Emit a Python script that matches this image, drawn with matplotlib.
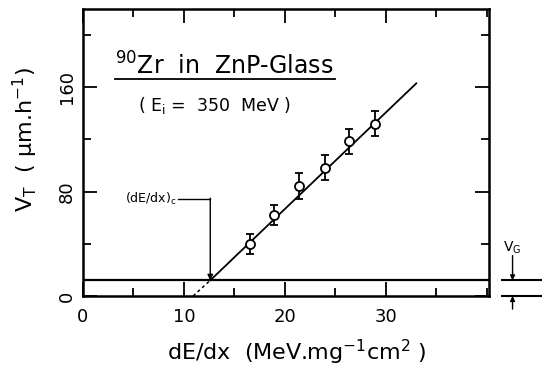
import matplotlib
matplotlib.use("Agg")
import matplotlib.pyplot as plt
import matplotlib.transforms as mtransforms
from matplotlib.ticker import MultipleLocator

# ---- data ----
dedx = [16.5, 18.9, 21.4, 24.0, 26.3, 28.9]
vt = [40.0, 62.0, 84.5, 98.5, 118.5, 132.0]
vt_err = [7.5, 7.7, 9.8, 9.7, 9.8, 9.6]

fit_solid_x = [12.6, 33.0]
fit_solid_y = [12.0, 163.0]
fit_dash_x = [10.9, 12.6]
fit_dash_y = [0.0, 12.0]

v_g = 12.0
dedx_c = 12.6
label_c_y = 74.5

x_ticks = [0, 10, 20, 30]
y_ticks = [0, 80, 160]

plt.rcParams['font.family'] = ['DejaVu Sans']
plt.rcParams['mathtext.fontset'] = 'dejavusans'

fig = plt.figure(figsize=(5.42, 3.67), dpi=100)
ax = fig.add_axes([83/542, 1-296/367, 406/542, 287/367])

ax.set_xlim(0, 40.2)
ax.set_ylim(0, 220)

# fit line
ax.plot(fit_solid_x, fit_solid_y, color='black', lw=1.3)
ax.plot(fit_dash_x, fit_dash_y, color='black', lw=1.1, ls=(0, (2, 2)))

# V_G horizontal line
ax.axhline(v_g, color='black', lw=1.6)

# data
ax.errorbar(dedx, vt, yerr=vt_err, fmt='o', mfc='white', mec='black',
            ms=6.5, mew=1.3, ecolor='black', elinewidth=1.3, capsize=3,
            capthick=1.3, zorder=5)

# ticks
ax.set_xticks(x_ticks)
ax.set_yticks(y_ticks)
ax.xaxis.set_minor_locator(MultipleLocator(5))
ax.yaxis.set_minor_locator(MultipleLocator(40))
ax.tick_params(which='both', direction='in', top=True, right=True, width=1.3)
ax.tick_params(which='major', length=10)
ax.tick_params(which='minor', length=6)
ax.tick_params(axis='x', labelsize=13, pad=9)
ax.tick_params(axis='y', labelsize=13, pad=5)
for lab in ax.get_yticklabels():
    lab.set_rotation(90)
    lab.set_va('center')
for s in ax.spines.values():
    s.set_linewidth(1.8)

# axis labels
fig.text(297/542, 1-352/367, r'dE/dx  (MeV.mg$^{-1}$cm$^{2}$ )', fontsize=16,
         ha='center', va='center')
fig.text(25/542, 1-140/367, r'V$_{\mathregular{T}}$  ( $\mathregular{\mu}$m.h$^{-1}$)', fontsize=16,
         ha='center', va='center', rotation=90)

# title inside
ax.text(0.079, 0.80, r'$^{90}$Zr  in  ZnP-Glass', transform=ax.transAxes,
        fontsize=17, ha='left', va='center')
ax.plot([0.079, 0.62], [0.755, 0.755], transform=ax.transAxes, color='black', lw=1.3)
ax.text(0.135, 0.665, r'( E$_{\mathregular{i}}$ =  350  MeV )', transform=ax.transAxes,
        fontsize=12.5, ha='left', va='center')

# (dE/dx)_c annotation
ax.text(6.7, label_c_y, r'(dE/dx)$_{\mathregular{c}}$', fontsize=9, ha='center', va='center')
ax.plot([9.4, dedx_c], [label_c_y, label_c_y], color='black', lw=1.0)
ax.annotate('', xy=(dedx_c, v_g), xytext=(dedx_c, label_c_y + 0.5),
            arrowprops=dict(arrowstyle='-|>', color='black', lw=1.0,
                            mutation_scale=8, shrinkA=0, shrinkB=0))

# V_G marker outside right
trans = mtransforms.blended_transform_factory(ax.transAxes, ax.transData)
ax.plot([1.032, 1.15], [v_g, v_g], transform=trans, color='black', lw=1.5, clip_on=False)
ax.plot([1.032, 1.15], [0, 0], transform=trans, color='black', lw=1.5, clip_on=False)
ax.annotate('', xy=(1.058, v_g), xytext=(1.058, 31), xycoords=trans, textcoords=trans,
            arrowprops=dict(arrowstyle='-|>', color='black', lw=1.0,
                            mutation_scale=7, shrinkA=0, shrinkB=0), annotation_clip=False)
ax.annotate('', xy=(1.058, 0), xytext=(1.058, -10), xycoords=trans, textcoords=trans,
            arrowprops=dict(arrowstyle='-|>', color='black', lw=1.0,
                            mutation_scale=7, shrinkA=0, shrinkB=0), annotation_clip=False)
ax.text(1.058, 37, r'V$_{\mathregular{G}}$', transform=trans, fontsize=10,
        ha='center', va='center', clip_on=False)

fig.savefig('out.png', dpi=100)
